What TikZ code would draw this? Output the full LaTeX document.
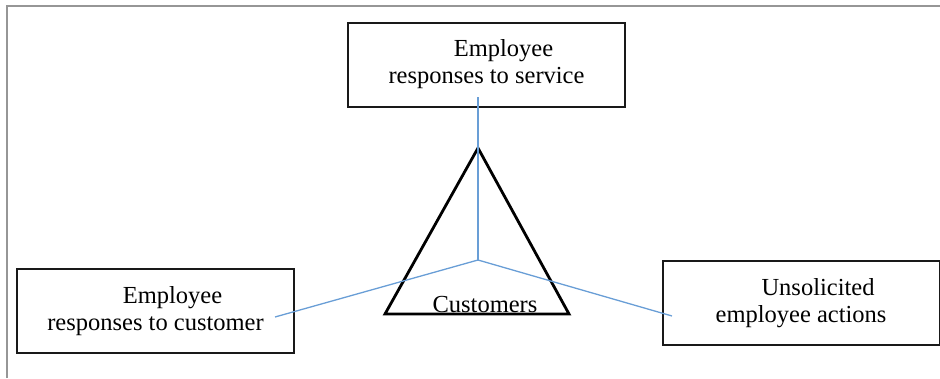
\documentclass[tikz,border=0pt]{standalone}
\usepackage{fontspec}
\setmainfont{Liberation Serif}
\definecolor{framegray}{RGB}{150,150,150}
\definecolor{linkblue}{RGB}{105,158,214}
\begin{document}
\begin{tikzpicture}[x=1pt,y=-1pt,
  txt/.style={font=\fontsize{24.5}{27}\selectfont},
  box/.style={txt, draw=black!90, line width=2pt, minimum width=277pt,
    minimum height=84pt, inner sep=0pt, align=center},
  link/.style={draw=linkblue, line width=1.3pt},
  frameline/.style={draw=framegray, line width=1.3pt}]
  \useasboundingbox (0,0) rectangle (940,378);

  % page frame
  \draw[frameline] (7,378) -- (7,6) -- (940,6);

  % the three boxes
  \node[box] (service) at (486.5,64.5)
    {\hspace*{34pt}Employee\\responses to service};
  \node[box] (customer) at (155.5,311)
    {\hspace*{34pt}Employee\\responses to customer};
  \node[box] (actions) at (801,303)
    {\hspace*{34pt}Unsolicited\\employee actions};

  % hub and link ends
  \coordinate (hub) at (478,260);
  \coordinate (endS) at (478,97);
  \coordinate (endC) at (275,317);
  \coordinate (endA) at (672,316);

  % triangle
  \coordinate (apex) at (478,148);
  \coordinate (bl) at (385,314);
  \coordinate (br) at (569,314);
  \draw[line width=2.8pt, line join=miter] (apex) -- (br) -- (bl) -- cycle;

  \draw[link] (hub) -- (endS);
  \draw[link] (hub) -- (endC);
  \draw[link] (hub) -- (endA);

  \node[txt, anchor=base, inner sep=0pt] (cust) at (485,312) {Customers};
\end{tikzpicture}
\end{document}
